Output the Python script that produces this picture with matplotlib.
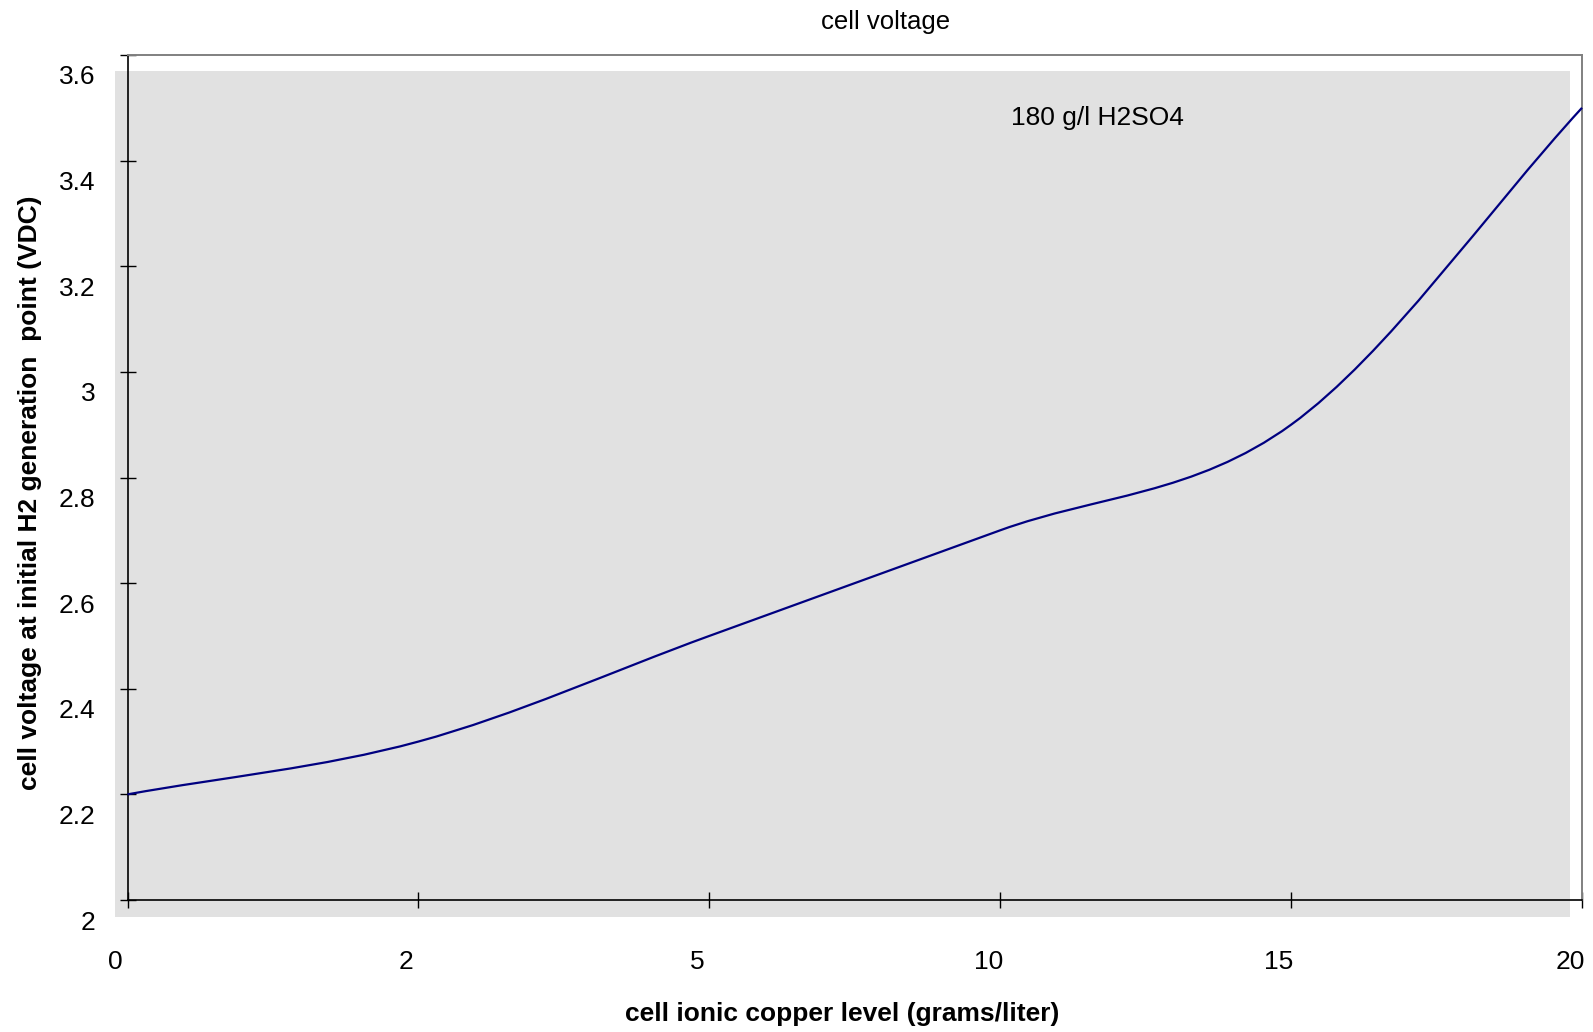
import matplotlib
matplotlib.use("Agg")
import matplotlib.pyplot as plt
from matplotlib.path import Path
from matplotlib.patches import PathPatch, Rectangle
from matplotlib.transforms import ScaledTranslation
from matplotlib.ticker import FixedLocator, FuncFormatter

# ---- data ----
copper_levels = ["0", "2", "5", "10", "15", "20"]
cell_voltage = [2.2, 2.3, 2.5, 2.7, 2.9, 3.5]
y_ticks = [2.0, 2.2, 2.4, 2.6, 2.8, 3.0, 3.2, 3.4, 3.6]

title = "cell voltage"
x_label = "cell ionic copper level (grams/liter)"
y_label = "cell voltage at initial H2 generation  point (VDC)"
note = "180 g/l H2SO4"

plt.rcParams['font.family'] = ['Liberation Sans', 'DejaVu Sans']
DPI = 100
W, H = 1593, 1032
fig = plt.figure(figsize=(W / DPI, H / DPI), dpi=DPI)

# axes box in pixels
L, R, T, B = 127.5, 1582, 55, 900
ax = fig.add_axes([L / W, 1 - B / H, (R - L) / W, (B - T) / H])
ax.set_zorder(1)
ax.patch.set_alpha(0)

# offset gray plot area (figure-level, behind the axes)
fig.patches.append(Rectangle((115 / W, 1 - 917 / H), (1570 - 115) / W, (917 - 71) / H,
                             transform=fig.transFigure, facecolor="#e1e1e1",
                             edgecolor="none", zorder=-5))

xs = list(range(len(cell_voltage)))
n = len(xs)

# smoothed line (cubic Bezier through the data points)
def tangent(i):
    if i == 0:
        return (xs[1] - xs[0], cell_voltage[1] - cell_voltage[0])
    if i == n - 1:
        return (xs[-1] - xs[-2], cell_voltage[-1] - cell_voltage[-2])
    return ((xs[i + 1] - xs[i - 1]) / 2, (cell_voltage[i + 1] - cell_voltage[i - 1]) / 2)

verts = [(xs[0], cell_voltage[0])]
codes = [Path.MOVETO]
for i in range(n - 1):
    t0, t1 = tangent(i), tangent(i + 1)
    verts += [(xs[i] + t0[0] / 3, cell_voltage[i] + t0[1] / 3),
              (xs[i + 1] - t1[0] / 3, cell_voltage[i + 1] - t1[1] / 3),
              (xs[i + 1], cell_voltage[i + 1])]
    codes += [Path.CURVE4] * 3
ax.add_patch(PathPatch(Path(verts, codes), facecolor="none", edgecolor="#000080",
                       lw=1.6, zorder=3, clip_on=False))

ax.set_xlim(0, n - 1)
ax.set_ylim(y_ticks[0], y_ticks[-1])

ax.xaxis.set_major_locator(FixedLocator(xs))
ax.set_xticklabels(copper_levels)
ax.yaxis.set_major_locator(FixedLocator(y_ticks))
ax.yaxis.set_major_formatter(FuncFormatter(lambda v, p: f"{v:g}"))

ax.tick_params(axis="both", direction="inout", length=11.5, width=1.0, color="black",
               labelsize=19, labelcolor="black")
ax.tick_params(axis="x", pad=30.5)
ax.tick_params(axis="y", pad=17.5)

for lab in ax.get_yticklabels():
    lab.set_transform(lab.get_transform() + ScaledTranslation(0, -20 / DPI, fig.dpi_scale_trans))
for lab in ax.get_xticklabels():
    lab.set_transform(lab.get_transform() + ScaledTranslation(-12 / DPI, 0, fig.dpi_scale_trans))

for s in ["left", "bottom"]:
    ax.spines[s].set_color("black")
    ax.spines[s].set_linewidth(1.2)
for s in ["top", "right"]:
    ax.spines[s].set_color("#808080")
    ax.spines[s].set_linewidth(1.4)

fig.text(886 / W, 1 - 22 / H, title, ha="center", va="center", fontsize=18.5)
fig.text(842 / W, 1 - 1014 / H, x_label, ha="center", va="center", fontsize=19,
         fontweight="bold")
fig.text(30 / W, 1 - 493 / H, y_label, ha="center", va="center", fontsize=19,
         fontweight="bold", rotation=90)
fig.text(1097 / W, 1 - 118 / H, note, ha="center", va="center", fontsize=19)

fig.savefig("out.png", dpi=DPI)
